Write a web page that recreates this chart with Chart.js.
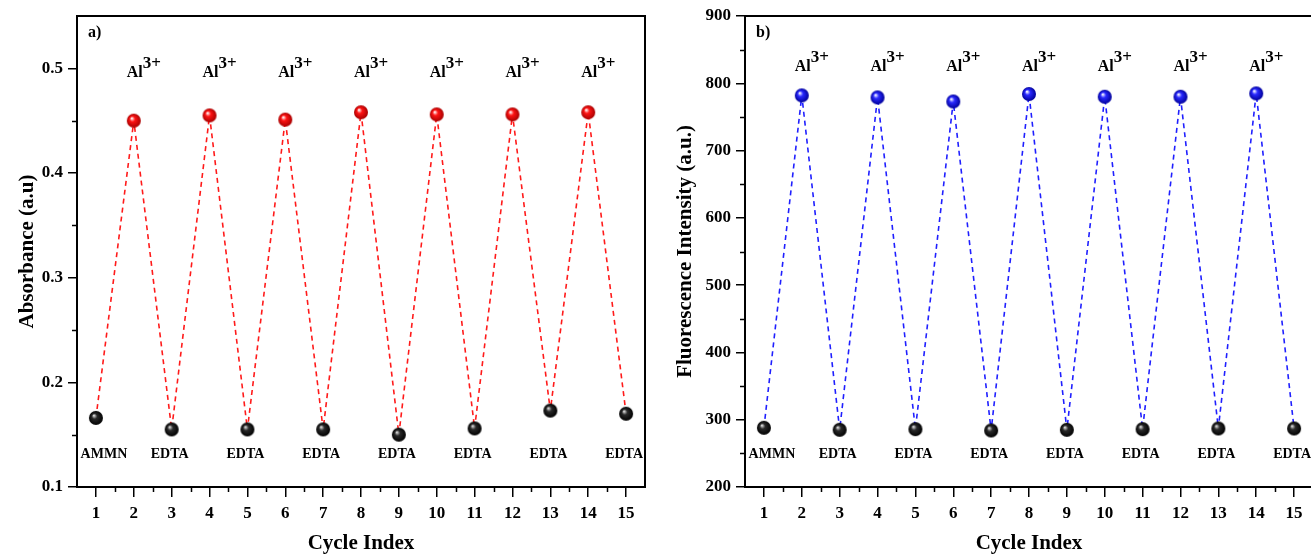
<!DOCTYPE html>
<html>
<head>
<meta charset="utf-8">
<script src="https://cdn.jsdelivr.net/npm/chart.js@4.4.1/dist/chart.umd.min.js"></script>
<style>
  body { margin: 0; background: #fff; overflow: hidden; width: 1311px; height: 560px; position: relative; }
  #boxA { position: absolute; left: 0; top: 0; width: 655px; height: 560px; }
  #boxB { position: absolute; left: 655px; top: 0; width: 668px; height: 560px; }
</style>
</head>
<body>
<div id="boxA"><canvas id="chartA"></canvas></div>
<div id="boxB"><canvas id="chartB"></canvas></div>
<script>
// cycle index: odd = AMMN / EDTA step, even = after Al3+ addition
var cycles = [1, 2, 3, 4, 5, 6, 7, 8, 9, 10, 11, 12, 13, 14, 15];
var absorbance = [0.166, 0.450, 0.155, 0.455, 0.155, 0.451, 0.155, 0.458, 0.150, 0.456, 0.156, 0.456, 0.173, 0.458, 0.170];
var fluorescence = [288, 782, 285, 779, 286, 773, 284, 784, 285, 780, 286, 780, 287, 785, 287];

var xTicks = [1, 2, 3, 4, 5, 6, 7, 8, 9, 10, 11, 12, 13, 14, 15];
var absTicks = [0.1, 0.2, 0.3, 0.4, 0.5];
var flTicks = [200, 300, 400, 500, 600, 700, 800, 900];

// labels over the peaks and under the lows
var peakCycles = [2, 4, 6, 8, 10, 12, 14];
var lowCycles = [1, 3, 5, 7, 9, 11, 13, 15];
var lowText = ["AMMN", "EDTA", "EDTA", "EDTA", "EDTA", "EDTA", "EDTA", "EDTA"];
var absLabelY = { peak: 0.492, low: 0.128 };
var flLabelY = { peak: 819, low: 243 };

var serif = '"Liberation Serif", "Times New Roman", serif';

// shaded ball used as point marker
function makeBall(hi, base, shade, r) {
  var c = document.createElement("canvas");
  c.width = c.height = 2 * r + 2;
  var g = c.getContext("2d");
  var cx = r + 1, cy = r + 1;
  var grad = g.createRadialGradient(cx - r * 0.3, cy - r * 0.35, r * 0.05, cx, cy, r);
  grad.addColorStop(0, hi);
  grad.addColorStop(0.35, base);
  grad.addColorStop(1, shade);
  g.fillStyle = grad;
  g.beginPath();
  g.arc(cx, cy, r, 0, Math.PI * 2);
  g.fill();
  return c;
}
var redBall = makeBall("#ffffff", "#ff1414", "#a80000", 7);
var blueBall = makeBall("#ffffff", "#2a2aff", "#00009a", 7);
var blackBall = makeBall("#e0e0e0", "#2a2a2a", "#000000", 7);

function mids(arr) {
  var out = [];
  for (let i = 0; i < arr.length - 1; i++) out.push((arr[i] + arr[i + 1]) / 2);
  return out;
}

// frame, minor ticks and text labels
var panelPlugin = {
  id: "panel",
  afterDraw: function (chart, args, opts) {
    var ctx = chart.ctx;
    var a = chart.chartArea;
    var xs = chart.scales.x, ys = chart.scales.y;
    ctx.save();
    ctx.strokeStyle = "#000";
    ctx.lineWidth = 2;
    ctx.strokeRect(a.left, a.top, a.right - a.left, a.bottom - a.top);

    ctx.lineWidth = 1.5;
    ctx.beginPath();
    mids(xTicks).forEach(function (v) {
      var px = Math.round(xs.getPixelForValue(v)) + 0.5;
      ctx.moveTo(px, a.bottom);
      ctx.lineTo(px, a.bottom + 5);
    });
    mids(opts.yTicks).forEach(function (v) {
      var py = Math.round(ys.getPixelForValue(v)) + 0.5;
      ctx.moveTo(a.left, py);
      ctx.lineTo(a.left - 5, py);
    });
    ctx.stroke();

    ctx.fillStyle = "#000";
    ctx.textBaseline = "alphabetic";
    ctx.textAlign = "left";
    ctx.font = "bold 16px " + serif;
    ctx.fillText(opts.letter, a.left + 11, a.top + 21);

    peakCycles.forEach(function (c) {
      var px = xs.getPixelForValue(c) - 7;
      var py = ys.getPixelForValue(opts.labelY.peak);
      ctx.font = "bold 16px " + serif;
      ctx.fillText("Al", px, py);
      var w = ctx.measureText("Al").width;
      ctx.font = "bold 17px " + serif;
      ctx.fillText("3+", px + w, py - 9);
    });

    ctx.font = "bold 14px " + serif;
    ctx.textAlign = "center";
    lowCycles.forEach(function (c, i) {
      var px = xs.getPixelForValue(c) + (i == 0 ? 8 : -2);
      var py = ys.getPixelForValue(opts.labelY.low);
      ctx.fillText(lowText[i], px, py);
    });
    ctx.restore();
  },
};

function makeChart(id, values, color, ball, yMin, yMax, yTicks, yTitle, yFmt, labelY, letter, pad, yWidth) {
  var points = cycles.map(function (c, i) {
    return { x: c, y: values[i] };
  });
  var config = {
    type: "line",
    data: {
      datasets: [
        {
          data: points,
          borderColor: color,
          borderWidth: 1.6,
          borderDash: [5, 4],
          fill: false,
          tension: 0,
          pointStyle: function (ctx) {
            return ctx.dataIndex % 2 ? ball : blackBall;
          },
          pointRadius: 7,
        },
      ],
    },
    options: {
      responsive: true,
      maintainAspectRatio: false,
      animation: false,
      layout: { padding: pad },
      plugins: {
        legend: { display: false },
        tooltip: { enabled: false },
        panel: { yTicks: yTicks, labelY: labelY, letter: letter },
      },
      scales: {
        x: {
          type: "linear",
          min: 0.5,
          max: 15.5,
          afterBuildTicks: function (s) {
            s.ticks = xTicks.map(function (v) { return { value: v }; });
          },
          afterFit: function (s) { s.height = 73; },
          ticks: { color: "#000", padding: 6, font: { family: serif, size: 17, weight: "bold" } },
          grid: { drawOnChartArea: false, tickLength: 10, color: "#000", lineWidth: 1.5 },
          border: { color: "#000", width: 2 },
          title: { display: true, text: "Cycle Index", color: "#000", font: { family: serif, size: 21, weight: "bold" } },
        },
        y: {
          min: yMin,
          max: yMax,
          afterBuildTicks: function (s) {
            s.ticks = yTicks.map(function (v) { return { value: v }; });
          },
          afterFit: function (s) { s.width = yWidth; },
          ticks: { color: "#000", padding: 5, callback: yFmt, font: { family: serif, size: 17, weight: "bold" } },
          grid: { drawOnChartArea: false, tickLength: 9, color: "#000", lineWidth: 1.5 },
          border: { color: "#000", width: 2 },
          title: { display: true, text: yTitle, color: "#000", font: { family: serif, size: 21, weight: "bold" } },
        },
      },
    },
    plugins: [panelPlugin],
  };
  return new Chart(document.getElementById(id), config);
}

makeChart("chartA", absorbance, "#ff1a1a", redBall, 0.1, 0.55, absTicks, "Absorbance (a.u)",
  function (v) { return v.toFixed(1); }, absLabelY, "a)", { left: 11, right: 10, top: 16, bottom: 0 }, 66);
makeChart("chartB", fluorescence, "#1f1fff", blueBall, 200, 900, flTicks, "Fluorescence Intensity (a.u.)",
  function (v) { return v; }, flLabelY, "b)", { left: 14, right: 10, top: 16, bottom: 0 }, 76);
</script>
</body>
</html>
